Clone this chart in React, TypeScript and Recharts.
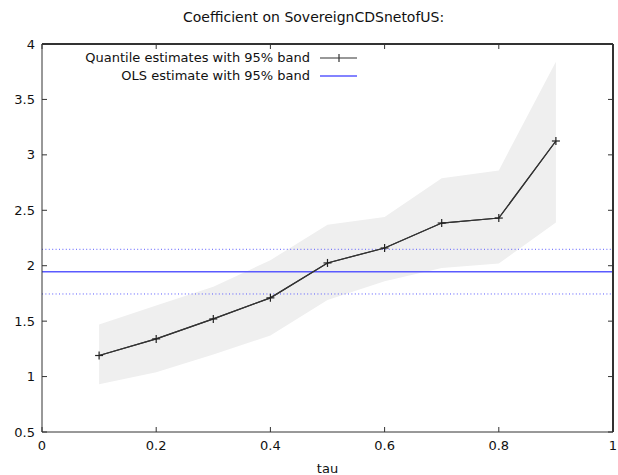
import React from 'react';
import {
  ComposedChart,
  Area,
  Line,
  XAxis,
  YAxis,
  ReferenceLine,
} from 'recharts';

const tau = [0.1, 0.2, 0.3, 0.4, 0.5, 0.6, 0.7, 0.8, 0.9];
const quantileEst = [1.19, 1.34, 1.52, 1.71, 2.025, 2.16, 2.385, 2.43, 3.125];
const bandLow = [0.93, 1.04, 1.2, 1.37, 1.69, 1.86, 1.98, 2.02, 2.39];
const bandHigh = [1.47, 1.64, 1.81, 2.05, 2.37, 2.44, 2.79, 2.86, 3.84];

const olsEst = 1.945;
const olsLow = 1.745;
const olsHigh = 2.148;

const xTicks = [0, 0.2, 0.4, 0.6, 0.8, 1];
const yTicks = [0.5, 1, 1.5, 2, 2.5, 3, 3.5, 4];
const xMax = 1;
const yMax = 4;

const FONT = '"DejaVu Sans", Verdana, sans-serif';
const FRAME = '#333333';
const OLS_BLUE = '#5a5aff';
const TXT = { fontFamily: FONT, fontSize: 13, fill: '#111' };
const WHITE_TXT = { fontFamily: FONT, fontSize: 6, fill: '#ffffff' };

const chartData = tau.map((t, i) => ({
  tau: t,
  est: quantileEst[i],
  band: [bandLow[i], bandHigh[i]],
}));

const PlusDot = (props: any) => {
  const { cx, cy } = props;
  if (cx == null || cy == null) return null;
  return (
    <g>
      <line x1={cx - 4} y1={cy} x2={cx + 4} y2={cy} stroke="#222" strokeWidth={1.2} />
      <line x1={cx} y1={cy - 4} x2={cx} y2={cy + 4} stroke="#222" strokeWidth={1.2} />
    </g>
  );
};

// legend drawn as an overlay so it doesn't eat into the plot area
const LegendBox = () => (
  <div
    style={{
      position: 'absolute',
      top: 49,
      left: 0,
      width: 360,
      fontFamily: FONT,
      fontSize: 13,
      color: '#111',
      lineHeight: '18px',
    }}
  >
    <div style={{ display: 'flex', justifyContent: 'flex-end', alignItems: 'center' }}>
      <span>Quantile estimates with 95% band</span>
      <svg width={42} height={18} style={{ marginLeft: 8 }}>
        <line x1={2} y1={9} x2={39} y2={9} stroke="#333" strokeWidth={1.2} />
        <line x1={21} y1={5} x2={21} y2={13} stroke="#333" strokeWidth={1.2} />
      </svg>
    </div>
    <div style={{ display: 'flex', justifyContent: 'flex-end', alignItems: 'center' }}>
      <span>OLS estimate with 95% band</span>
      <svg width={42} height={18} style={{ marginLeft: 8 }}>
        <line x1={2} y1={9} x2={39} y2={9} stroke={OLS_BLUE} strokeWidth={1.5} />
      </svg>
    </div>
  </div>
);

const fmt = (v: number) => String(v);

export default function App() {
  return (
    <div style={{ position: 'absolute', left: 0, top: 0, width: 618, height: 475, background: '#fff' }}>
      <div
        style={{
          position: 'absolute',
          top: 9,
          left: 183,
          whiteSpace: 'nowrap',
          fontFamily: FONT,
          fontSize: 14,
          color: '#111',
        }}
      >
        Coefficient on SovereignCDSnetofUS:
      </div>
      <ComposedChart
        width={618}
        height={475}
        data={chartData}
        margin={{ top: 34, right: 0, bottom: 13, left: 0 }}
      >
        <XAxis
          xAxisId="bottom"
          dataKey="tau"
          type="number"
          domain={[0, 1]}
          ticks={xTicks}
          tickFormatter={fmt}
          height={30}
          stroke={FRAME}
          tickSize={-5}
          tickMargin={14}
          tick={TXT}
          label={{ value: 'tau', position: 'insideBottom', offset: -11, ...TXT }}
        />
        <XAxis
          xAxisId="top"
          dataKey="tau"
          type="number"
          orientation="top"
          domain={[0, 1]}
          ticks={xTicks}
          height={10}
          stroke={FRAME}
          tickSize={-5}
          tickMargin={12}
          tick={WHITE_TXT}
        />
        <YAxis
          yAxisId="left"
          type="number"
          domain={[0.5, 4]}
          ticks={yTicks}
          tickFormatter={fmt}
          width={42}
          stroke={FRAME}
          tickSize={-5}
          tickMargin={12}
          tick={TXT}
        />
        <YAxis
          yAxisId="right"
          orientation="right"
          type="number"
          domain={[0.5, 4]}
          ticks={yTicks}
          width={5}
          stroke={FRAME}
          tickSize={-5}
          tickMargin={11}
          tick={WHITE_TXT}
        />
        <Area
          xAxisId="bottom"
          yAxisId="left"
          dataKey="band"
          type="linear"
          fill="#efefef"
          fillOpacity={1}
          stroke="none"
          isAnimationActive={false}
        />
        <ReferenceLine xAxisId="bottom" yAxisId="left" y={olsHigh} stroke={OLS_BLUE} strokeDasharray="1 2.4" strokeWidth={1} />
        <ReferenceLine xAxisId="bottom" yAxisId="left" y={olsLow} stroke={OLS_BLUE} strokeDasharray="1 2.4" strokeWidth={1} />
        <ReferenceLine xAxisId="bottom" yAxisId="left" y={olsEst} stroke={OLS_BLUE} strokeWidth={1.5} />
        {/* top and right edges of the plot frame */}
        <ReferenceLine xAxisId="bottom" yAxisId="left" y={yMax} stroke={FRAME} strokeWidth={2} />
        <ReferenceLine xAxisId="bottom" yAxisId="left" x={xMax} stroke={FRAME} strokeWidth={2} />
        {/* same series on the mirror axes (identical domains) so they get drawn */}
        <Line
          xAxisId="top"
          yAxisId="right"
          dataKey="est"
          type="linear"
          stroke="#333"
          strokeWidth={1.2}
          dot={false}
          activeDot={false}
          isAnimationActive={false}
        />
        <Line
          xAxisId="bottom"
          yAxisId="left"
          dataKey="est"
          type="linear"
          stroke="#333"
          strokeWidth={1.2}
          dot={<PlusDot />}
          activeDot={false}
          isAnimationActive={false}
        />
      </ComposedChart>
      <LegendBox />
    </div>
  );
}
